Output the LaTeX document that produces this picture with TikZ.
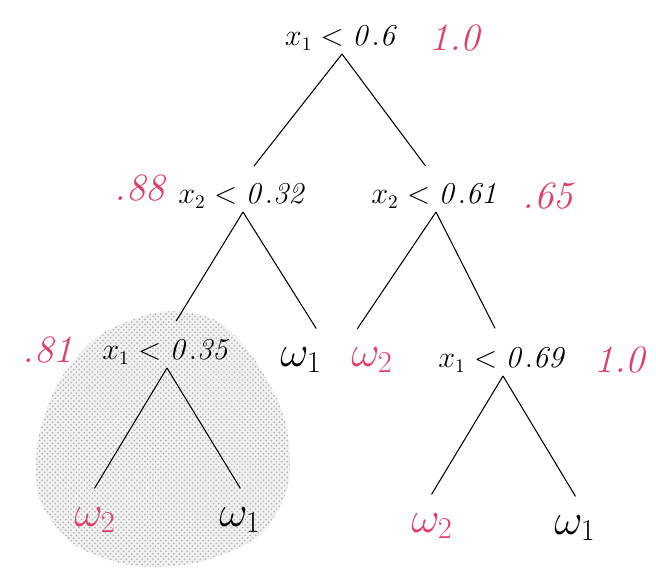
\documentclass[tikz,border=0pt]{standalone}
\usepackage{amssymb, amsmath}
\usepackage{tikz}
\usetikzlibrary{patterns}

\definecolor{gainred}{RGB}{222,62,104}
\tikzset{
  test/.style={font=\fontsize{16}{18}\selectfont, inner sep=2pt},
  gain/.style={text=gainred, font=\fontsize{22}{26}\selectfont\itshape},
  leaf/.style={font=\fontsize{24}{28}\selectfont, inner sep=2pt},
  branch/.style={line width=0.6pt, shorten >=10pt},
}

\begin{document}
\begin{tikzpicture}
\begin{scope}[x=0.02cm, y=-0.02cm]
\useasboundingbox (0,0) rectangle (656,575);
\path[fill=gray!11, postaction={pattern=crosshatch dots, pattern color=gray!65}]
  plot[smooth cycle] coordinates {(160,312) (215,320) (255,360) (285,420) (288,485)
  (260,535) (200,562) (135,566) (75,545) (40,500) (38,440) (60,380) (100,335)};

\node[test] (root) at (342,38) {$x_1 < \mathit{0.6}$};
\node[gain] (groot) at (455,38) {1.0};
\node[test] (left) at (243,196) {$x_2 < \mathit{0.32}$};
\node[gain] (gleft) at (140,188) {.88};
\node[test] (right) at (436,196) {$x_2 < \mathit{0.61}$};
\node[gain] (gright) at (548,196) {.65};
\node[test] (leftleft) at (167,352) {$x_1 < \mathit{0.35}$};
\node[gain] (gleftleft) at (48,350) {.81};
\node[leaf] (leftright) at (301,360) {$\omega_1$};
\node[leaf, text=gainred] (rightleft) at (372,360) {$\omega_2$};
\node[test] (rightright) at (503,360) {$x_1 < \mathit{0.69}$};
\node[gain] (grightright) at (620,360) {1.0};
\node[leaf, text=gainred] (lla) at (95,520) {$\omega_2$};
\node[leaf] (llb) at (240,520) {$\omega_1$};
\node[leaf, text=gainred] (rra) at (432,526) {$\omega_2$};
\node[leaf] (rrb) at (575,528) {$\omega_1$};

\draw[branch] (root.south)--(left.north);
\draw[branch] (root.south)--(right.north);
\draw[branch] (left.south)--(leftleft.north);
\draw[branch] (left.south)--(leftright.north east);
\draw[branch] (right.south)--(rightleft.north west);
\draw[branch] (right.south)--(rightright.north);
\draw[branch] (leftleft.south)--(lla.120);
\draw[branch] (leftleft.south)--(llb.60);
\draw[branch] (rightright.south)--(rra.120);
\draw[branch] (rightright.south)--(rrb.60);
\end{scope}
\end{tikzpicture}
\end{document}
